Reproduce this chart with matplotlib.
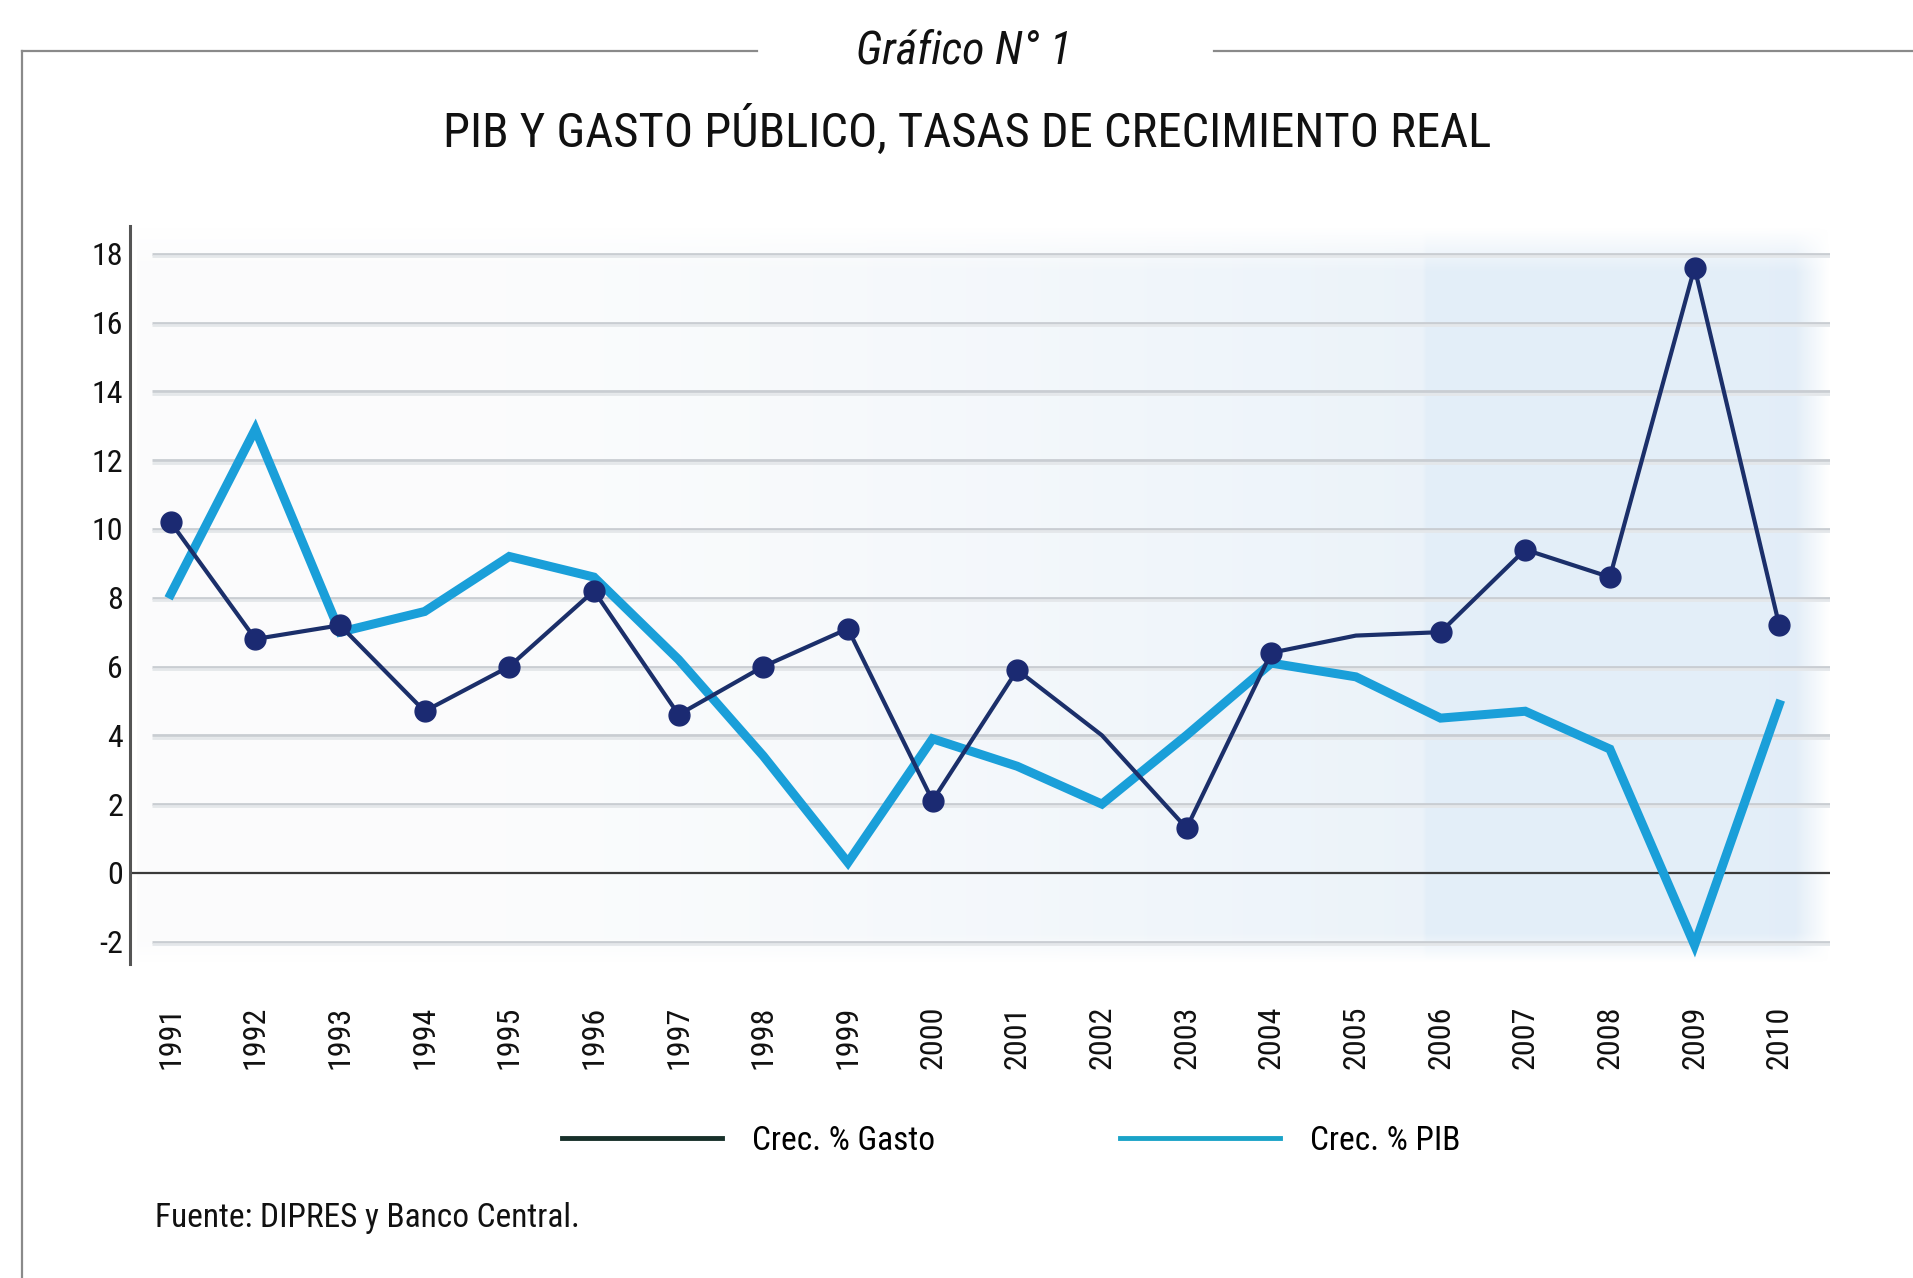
import numpy as np
import matplotlib
matplotlib.use("Agg")
import matplotlib.pyplot as plt
from matplotlib.lines import Line2D
from matplotlib import font_manager as fm

# ---- data ----
years = [1991, 1992, 1993, 1994, 1995, 1996, 1997, 1998, 1999, 2000,
         2001, 2002, 2003, 2004, 2005, 2006, 2007, 2008, 2009, 2010]
gasto = [10.2, 6.8, 7.2, 4.7, 6.0, 8.2, 4.6, 6.0, 7.1, 2.1,
         5.9, 4.0, 1.3, 6.4, 6.9, 7.0, 9.4, 8.6, 17.6, 7.2]
gasto_marked = [True, True, True, True, True, True, True, True, True, True,
                True, False, True, True, False, True, True, True, True, True]
pib = [8.1, 12.9, 7.0, 7.6, 9.2, 8.6, 6.2, 3.4, 0.3, 3.9,
       3.1, 2.0, 4.0, 6.1, 5.7, 4.5, 4.7, 3.6, -2.1, 4.9]
yticks = [-2, 0, 2, 4, 6, 8, 10, 12, 14, 16, 18]
series_labels = ["Crec. % Gasto", "Crec. % PIB"]

# ---- pick a condensed font if one is installed ----
entries = fm.fontManager.ttflist
names = {f.name for f in entries}
STRETCH = "normal"
FAM = "DejaVu Sans"
for cand in ["Roboto Condensed", "Liberation Sans Narrow", "Open Sans Condensed",
             "Noto Sans Condensed", "DejaVu Sans Condensed"]:
    if cand in names:
        FAM = cand
        break
else:
    for f in entries:
        if f.name == "DejaVu Sans" and "condensed" in str(f.stretch).lower():
            STRETCH = "condensed"
            break
plt.rcParams["font.family"] = [FAM, "DejaVu Sans"]
plt.rcParams["font.stretch"] = STRETCH
narrow = FAM != "DejaVu Sans" or STRETCH == "condensed"
k = 1.0 if narrow else 0.85

W, H = 1913, 1278
fig = plt.figure(figsize=(W / 100, H / 100), dpi=100)
fig.patch.set_facecolor("white")

frame_col = "#8a8a8a"
fig.add_artist(Line2D([22 / W, 757 / W], [1 - 51 / H, 1 - 51 / H], color=frame_col, lw=1.6))
fig.add_artist(Line2D([1214 / W, 1.0], [1 - 51 / H, 1 - 51 / H], color=frame_col, lw=1.6))
fig.add_artist(Line2D([22 / W, 22 / W], [1 - 51 / H, 0.0], color=frame_col, lw=1.6))

fig.text(964 / W, 1 - 51 / H, "Gráfico N° 1", ha="center", va="center",
         fontsize=33 * k, style="italic", color="#111111")
fig.text(967 / W, 1 - 131 / H, "PIB Y GASTO PÚBLICO, TASAS DE CRECIMIENTO REAL",
         ha="center", va="center", fontsize=35 if narrow else 27, color="#111111")

ax = fig.add_axes([130 / W, 1 - 964 / H, (1830 - 130) / W, (964 - 226) / H])
ax.set_xlim(1990.52, 2010.6)
ax.set_ylim(-2.65, 18.81)
ax.set_facecolor("white")

# soft blue background gradient
xs = np.linspace(0, 1, 400)
base_w = np.array([0.985, 0.988, 0.99])
base_b = np.array([0.885, 0.93, 0.972])
t = np.clip((xs - 0.2) / 0.8, 0, 1) ** 1.3
t = np.where(xs > 0.76, np.maximum(t, 0.92), t)
cols = base_w[None, :] * (1 - t[:, None]) + base_b[None, :] * t[:, None]
ys = np.linspace(0, 1, 200)
fade_y = np.clip(np.minimum(ys / 0.04, (1 - ys) / 0.06), 0, 1)
img = np.ones((200, 400, 4))
img[:, :, :3] = cols[None, :, :]
img[:, :, 3] = fade_y[:, None] * np.clip((1 - xs) / 0.02, 0, 1)[None, :]
ax.imshow(img, extent=[1990.6, 2010.6, -2.65, 18.81], origin="lower",
          aspect="auto", zorder=0, interpolation="bilinear")

for v in yticks:
    if v == 0:
        continue
    ax.plot([1990.78, 2010.6], [v, v], color="#c9cdd2", lw=2.0, zorder=1,
            solid_capstyle="butt")
    ax.plot([1990.78, 2010.6], [v - 0.07, v - 0.07], color="#e4e7ea", lw=2.0,
            zorder=1, solid_capstyle="butt")
ax.axhline(0, color="#3a3a3a", lw=1.6, zorder=2)

ax.plot(years, pib, color="#1a9fd9", lw=6.5, zorder=3, solid_joinstyle="miter")
mk = [i for i, m in enumerate(gasto_marked) if m]
ax.plot(years, gasto, color="#1b2f6a", lw=3.0, marker="o", markersize=15,
        markevery=mk, markerfacecolor="#1b2a72", markeredgecolor="#1b2a72",
        zorder=4)

for s in ["top", "right", "bottom"]:
    ax.spines[s].set_visible(False)
ax.spines["left"].set_color("#555555")
ax.spines["left"].set_linewidth(2.2)

ax.set_yticks(yticks)
ax.set_yticklabels([str(v) for v in yticks])
ax.set_xticks(years)
ax.set_xticklabels([str(y) for y in years], rotation=90)
ax.tick_params(axis="y", length=0, pad=5, labelsize=23 * k, labelcolor="#111111")
ax.tick_params(axis="x", length=0, pad=30, labelsize=23 * k, labelcolor="#111111")

handles = [Line2D([], [], color="#17302a", lw=3.5),
           Line2D([], [], color="#1aa3c8", lw=3.5)]
fig.legend(handles, series_labels, loc="center", bbox_to_anchor=(1011 / W, 1 - 1141 / H),
           ncol=2, frameon=False, prop={"size": 24 * k}, handlelength=4.8,
           handletextpad=0.9, columnspacing=5.55)

fig.text(155 / W, 1 - 1218 / H, "Fuente: DIPRES y Banco Central.", ha="left",
         va="center", fontsize=24 * k, color="#111111")

fig.savefig("out.png", dpi=100)
